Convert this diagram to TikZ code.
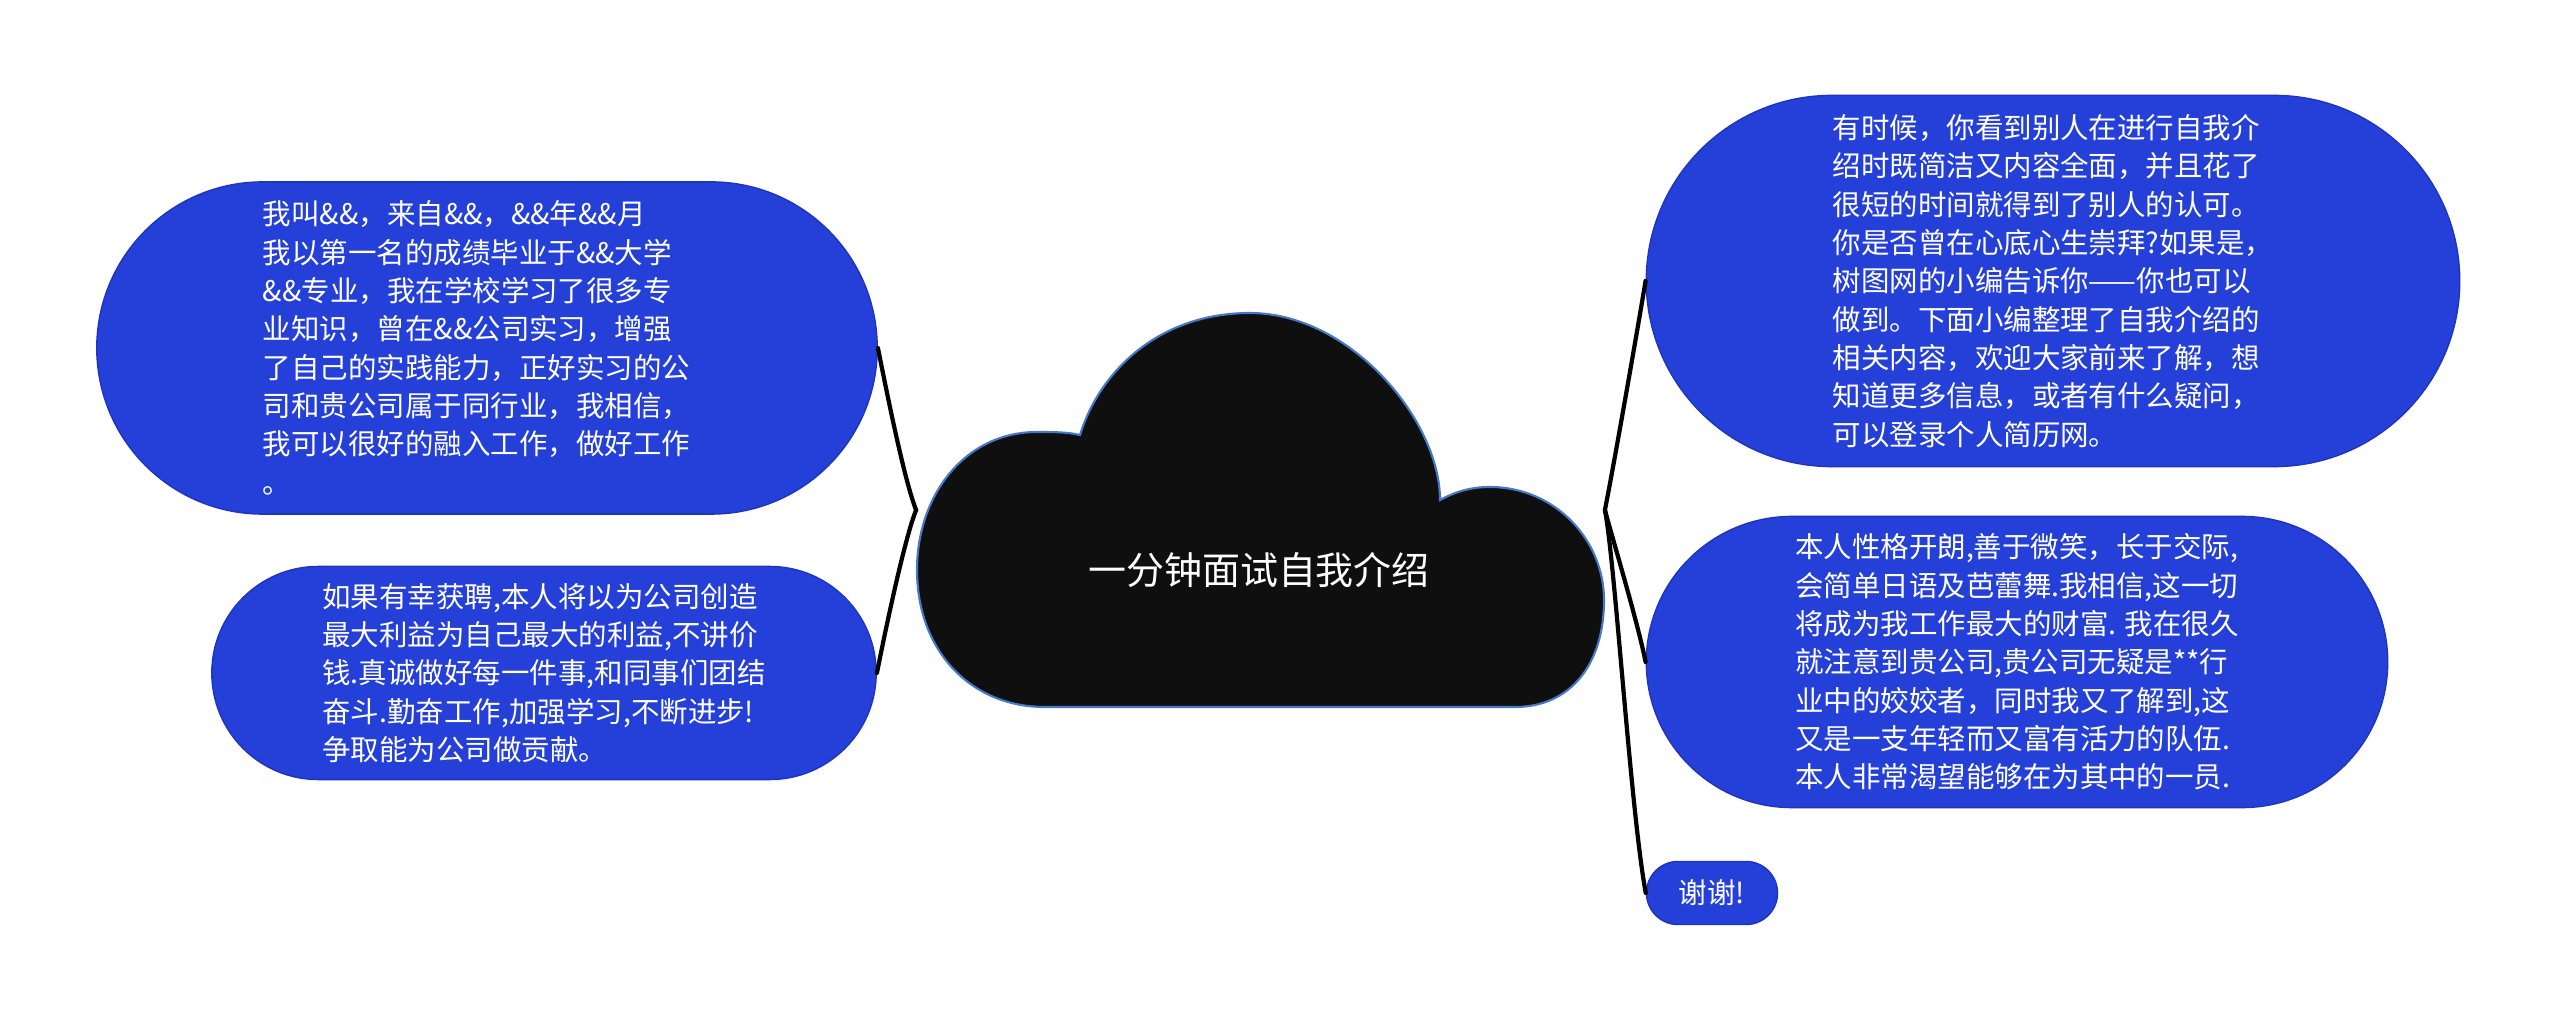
\documentclass[tikz,border=0pt]{standalone}
\usepackage{fontspec}
\newfontfamily\cjk{Noto Sans CJK SC}
\usetikzlibrary{shapes.misc}
\definecolor{boxblue}{RGB}{37,64,217}
\definecolor{boxedge}{RGB}{30,52,190}
\definecolor{cloudfill}{RGB}{15,15,15}
\definecolor{cloudedge}{RGB}{70,120,200}
\begin{document}
\begin{tikzpicture}[x=0.01cm,y=-0.01cm,topic/.style={shape=rounded rectangle, fill=boxblue, draw=boxedge, line width=0.4pt, text=white, align=left, inner sep=0pt, font=\cjk\fontsize{8.1}{10.9}\selectfont},link/.style={draw=black, line width=1.2pt, line cap=round}]
\useasboundingbox (0,0) rectangle (2560,1022);
\node(cloud) [minimum width=6.87cm, minimum height=3.92cm, inner sep=0pt] at (1260.5,510) {};
\path[fill=cloudfill, draw=cloudedge, line width=0.6pt] (1045,707) -- (1515,707)
 .. controls (1570,707) and (1604,665) .. (1604,600)
 .. controls (1604,540) and (1555,487) .. (1490,487)
 .. controls (1470,487) and (1455,492) .. (1440,500)
 .. controls (1440,420) and (1350,313) .. (1250,313)
 .. controls (1160,313) and (1100,370) .. (1080,435)
 .. controls (1068,432) and (1052,432) .. (1037,432)
 .. controls (965,432) and (917,495) .. (917,570)
 .. controls (917,650) and (970,707) .. (1045,707) -- cycle;
\node(title) [text=white, font=\cjk\fontsize{10.8}{13}\selectfont] at (1259,570) {一分钟面试自我介绍};
\node(me) [topic, text width=4.48cm, minimum width=7.8cm, minimum height=3.32cm] at (487,348) {我叫\&\&，来自\&\&，\&\&年\&\&月\\我以第一名的成绩毕业于\&\&大学\\\&\&专业，我在学校学习了很多专\\业知识，曾在\&\&公司实习，增强\\了自己的实践能力，正好实习的公\\司和贵公司属于同行业，我相信，\\我可以很好的融入工作，做好工作\\。};
\node(hire) [topic, minimum width=6.64cm, minimum height=2.13cm] at (544,673) {如果有幸获聘,本人将以为公司创造\\最大利益为自己最大的利益,不讲价\\钱.真诚做好每一件事,和同事们团结\\奋斗.勤奋工作,加强学习,不断进步!\\争取能为公司做贡献。};
\node(intro) [topic, minimum width=8.13cm, minimum height=3.71cm] at (2053,281) {有时候，你看到别人在进行自我介\\绍时既简洁又内容全面，并且花了\\很短的时间就得到了别人的认可。\\你是否曾在心底心生崇拜?如果是，\\树图网的小编告诉你——你也可以\\做到。下面小编整理了自我介绍的\\相关内容，欢迎大家前来了解，想\\知道更多信息，或者有什么疑问，\\可以登录个人简历网。};
\node(trait) [topic, minimum width=7.41cm, minimum height=2.91cm] at (2017,662) {本人性格开朗,善于微笑，长于交际,\\会简单日语及芭蕾舞.我相信,这一切\\将成为我工作最大的财富. 我在很久\\就注意到贵公司,贵公司无疑是**行\\业中的姣姣者，同时我又了解到,这\\又是一支年轻而又富有活力的队伍.\\本人非常渴望能够在为其中的一员.};
\node(thanks) [topic, minimum width=1.31cm, minimum height=0.63cm] at (1712,893) {谢谢!};
\draw[link] (cloud.west) .. controls +(-12,-30) and +(8,40) .. (me.east);
\draw[link] (cloud.west) .. controls +(-12,30) and +(8,-40) .. (hire.east);
\draw[link] (cloud.east) .. controls +(8,-40) and +(-10,60) .. (intro.west);
\draw[link] (cloud.east) .. controls +(8,30) and +(-8,-40) .. (trait.west);
\draw[link] (cloud.east) .. controls +(10,50) and +(-15,-80) .. (thanks.west);
\end{tikzpicture}
\end{document}
